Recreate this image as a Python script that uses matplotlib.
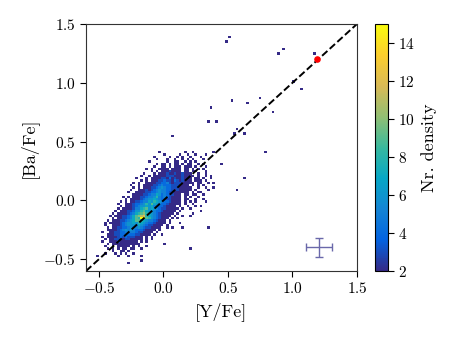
import numpy as np
import matplotlib
matplotlib.use("Agg")
import matplotlib.pyplot as plt
from matplotlib.colors import LinearSegmentedColormap

plt.rcParams['font.family'] = 'cmr10'
plt.rcParams['mathtext.fontset'] = 'cm'
plt.rcParams['axes.formatter.use_mathtext'] = True

# star counts in 0.02 x 0.02 dex cells of the dense clump
# first column is [Y/Fe] = -0.50, first row is [Ba/Fe] = 0.42 (going down)
# '.' = empty, 1-9 / a-f = number of stars (hex)
grid_x0 = -0.50
grid_y0 = 0.42
cell = 0.02
clump_rows = [
    "..... ..... ..... ..... ...1. ..... ...1. .1... .....",
    "..... ..... ..... ..... ..... 1.... .1..1 ..1.. .1...",
    "..... ..... ..... ..... .1... ..1.. 1.1.. 1...1 .....",
    "..... ..... ..... ..... ..1.. .1..1 ..1.1 .1... 1....",
    "..... ..... ..... ....1 ..... .1..1 1..1. 1.1.. .....",
    "..... ..... ..... ..... ..1.1 1.1.2 1.2.1 1..1. 1....",
    "..... ..... ..... ..... .1..1 2.1.1 21.21 1.1.. .1...",
    "..... ..... ..... ...1. 1..21 12.21 21.12 .1.1. 1....",
    "..... ..... ..... ..... 1.2.1 21312 12.21 .21.. .1...",
    "..... ..... ..... ..1.. .1.12 13223 21312 1..1. .1...",
    "..... ..... ..... .1..1 .1212 23332 12321 21.1. .1.1.",
    "..... ..... ....1 ...1. 21223 32423 22321 1.21. 1..1.",
    "..... ..... ..... .1.1. 12233 43324 32322 1.111 .1...",
    "..... ..... ...1. 1..12 12334 45323 33221 12.11 ..1.1",
    "..... ..... ..1.. 1.212 23345 44433 32211 .1.1. 1....",
    "..... ..... ...1. 1.212 33456 54433 32121 1..1. .1...",
    "..... ..... ..1.. 21232 34565 54432 32121 1.1.. ..1..",
    "..... ..... .1..1 12233 44565 54332 22121 .1.1. .....",
    "..... ..... ...12 12334 55764 54332 21.11 .11.. 1....",
    "..... ....1 .1.12 23345 56854 54322 21.1. 1..1. .....",
    "..... ..... 1.122 23456 67654 43321 21.11 ..1.. 1....",
    "..... ...1. 1.223 34557 68765 44321 21.1. 1.1.. .....",
    "..... ..1.. 21234 45686 97654 43221 11.1. .1... .....",
    "..... ...1. 12234 56676 75544 32211 .1..1 ..1.. .....",
    "..... ..1.1 21235 57896 76543 32211 1.1.. 1.... .....",
    "..... .1.12 23346 68976 65443 22111 .1... ..... .....",
    "..... 1.122 23457 89a87 65432 2111. 1.... ..... .....",
    "....1 .1223 34579 abc87 65432 211.1 ..... 1.... .....",
    "..... 1.223 34579 8ff98 65432 21.1. 1.... ..... .....",
    "...1. 12233 45679 98765 54321 1.1.. ..... ..... .....",
    "..1.1 12234 56676 87654 43221 1.1.. .1... ..... .....",
    "..1.. 21234 56665 76543 32211 .1... ..... ..... .....",
    "...1. 12334 45655 65433 2211. .1... ..... ..... .....",
    "...11 22345 65654 44322 11.1. ..... ..... ..... .....",
    ".1..1 23344 55554 33221 1.1.. ..... ..... ..... .....",
    "...12 23344 44443 32211 .1... ..... ..... ..... .....",
    ".1.12 22343 43332 21.1. 1.... ..... ..... ..... .....",
    "..1.1 23332 33222 11.1. 1.... ..... ..... ..... .....",
    ".1..1 12322 22211 .1.1. ..... ..... ..... ..... .....",
    "...1. 21221 21211 1.... ..... ..... ..... ..... .....",
    "..1.. 1.211 11.1. 1..1. ..... ..... ..... ..... .....",
    "...1. 1.1.1 1.11. .1... ..... ..... ..... ..... .....",
    "..... 1..11 .1... ..... ..... ..... ..... ..... .....",
    "..1.. .1.1. 1..1. ..... ..... ..... ..... ..... .....",
    "..... ..1.. .1... .1... ..... ..... ..... ..... .....",
]

# single stars away from the clump
outlier_yfe = [0.519, 0.492, 0.920, 0.895, 1.177, 1.010, 1.077, 0.534, 0.655,
               0.748, 0.366, 0.849, 0.358, 0.410, 0.578, 0.544, 0.637, 0.064,
               0.792, 0.397, 0.449, 0.330, 0.624, 0.560, 0.358, 0.384, 0.300,
               0.330, 0.358, 0.203, 0.000, -0.010, 0.074, 0.150, 0.228, 0.300,
               0.300, 0.216, 0.150, -0.270, -0.170, -0.520]
outlier_bafe = [1.390, 1.340, 1.300, 1.250, 1.250, 1.000, 0.960, 0.853, 0.822,
                0.876, 0.790, 0.754, 0.675, 0.660, 0.613, 0.570, 0.576, 0.542,
                0.406, 0.414, 0.316, 0.386, 0.188, 0.097, 0.160, 0.117, 0.075,
                -0.010, -0.228, -0.412, -0.370, -0.280, -0.236, -0.240, -0.110,
                -0.080, -0.055, -0.073, -0.124, -0.540, -0.506, -0.460]

# highlighted star and typical uncertainty
star_yfe, star_bafe = 1.19, 1.20
err_yfe, err_bafe = 1.205, -0.40
err_x, err_y = 0.10, 0.08

# parula-like colormap
parula = LinearSegmentedColormap.from_list("parula", [
    "#352a87", "#0363e1", "#1485d4", "#06a7c6", "#38b99e",
    "#92bf73", "#d9ba56", "#fcce2e", "#f9fb0e"])

xs, ys, ws = [], [], []
for r, row in enumerate(clump_rows):
    row = row.replace(" ", "")
    for c, ch in enumerate(row):
        if ch != ".":
            xs.append(grid_x0 + cell * (c + 0.5))
            ys.append(grid_y0 - cell * (r + 0.5))
            ws.append(int(ch, 16))
xs += outlier_yfe
ys += outlier_bafe
ws += [1] * len(outlier_yfe)

fig = plt.figure(figsize=(4.54, 3.4), dpi=100)
ax = fig.add_axes([0.1894, 0.2029, 0.5969, 0.7265])
cax = fig.add_axes([0.826, 0.2029, 0.0286, 0.7265])

edges = np.linspace(-0.6, 1.5, 106)
h = ax.hist2d(xs, ys, bins=[edges, edges], weights=ws, cmin=1,
              vmin=2, vmax=15, cmap=parula)

ax.plot([-0.6, 1.5], [-0.6, 1.5], "k--", lw=1.4)
ax.scatter([star_yfe], [star_bafe], s=14, color="red", zorder=5)
ax.errorbar(err_yfe, err_bafe, xerr=err_x, yerr=err_y, color="#6a68aa",
            lw=1, capsize=3, capthick=1)

ax.set_xlim(-0.6, 1.5)
ax.set_ylim(-0.6, 1.5)
ax.set_xticks([-0.5, 0.0, 0.5, 1.0, 1.5])
ax.set_yticks([-0.5, 0.0, 0.5, 1.0, 1.5])
ax.tick_params(direction="out", length=4, labelsize=11)
ax.set_xlabel("[Y/Fe]", fontsize=13)
ax.set_ylabel("[Ba/Fe]", fontsize=13)
for s in ax.spines.values():
    s.set_color("#333333")

cb = fig.colorbar(h[3], cax=cax)
cb.set_ticks([2, 4, 6, 8, 10, 12, 14])
cb.ax.tick_params(labelsize=11, length=4)
cb.set_label("Nr. density", fontsize=13)

fig.savefig("out.png", dpi=100)
